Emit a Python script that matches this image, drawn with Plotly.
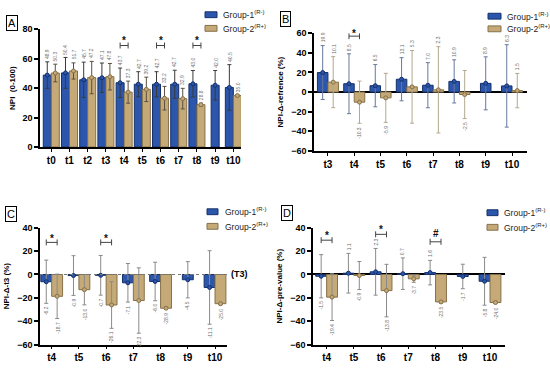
import plotly.graph_objects as go

W, H = 550, 369

# ---------------- data ----------------
cats_A = ["t0", "t1", "t2", "t3", "t4", "t5", "t6", "t7", "t8", "t9", "t10"]
g1_A = [48.9, 50.4, 45.7, 47.1, 43.7, 42.7, 42.7, 42.7, 43.0, 42.0, 40.5]
g1_A_sd = [9.0, 10.5, 12.0, 10.0, 10.0, 8.5, 8.5, 9.5, 9.0, 10.0, 15.5]
g2_A = [50.3, 51.7, 47.2, 47.8, 37.3, 39.2, 33.2, 32.9, 28.8, None, 35.0]
g2_A_sd = [6.0, 5.5, 11.0, 9.0, 7.5, 8.3, 8.0, 7.0, 1.0, None, 0.5]

cats_B = ["t3", "t4", "t5", "t6", "t7", "t8", "t9", "t10"]
g1_B = [19.9, 8.5, 6.5, 13.1, 7.0, 10.9, 8.9, 6.3]
g1_B_sd = [27.5, 30.5, 21.5, 22.0, 23.0, 22.0, 27.0, 42.0]
g2_B = [10.1, -10.3, -5.9, 5.3, 2.3, -2.5, None, 1.5]
g2_B_sd = [26.0, 21.5, 25.0, 37.0, 44.0, 24.5, None, 17.5]

cats_C = ["t4", "t5", "t6", "t7", "t8", "t9", "t10"]
g1_C = [-6.2, -0.9, -0.7, -7.1, -6.0, -4.5, -11.1]
g1_C_sd = [18.5, 17.0, 17.0, 16.5, 16.5, 15.5, 31.5]
g2_C = [-18.7, -13.0, -26.1, -22.3, -28.9, None, -25.0]
g2_C_sd = [19.0, 13.0, 20.0, 28.0, 1.0, None, 1.0]

cats_D = ["t4", "t5", "t6", "t7", "t8", "t9", "t10"]
g1_D = [-1.5, 1.1, 2.3, 0.7, 1.6, -1.7, -5.8]
g1_D_sd = [18.5, 17.0, 20.0, 13.5, 10.5, 10.5, 20.5]
g2_D = [-19.4, -0.9, -13.8, -3.7, -23.5, None, -24.0]
g2_D_sd = [20.0, 12.0, 22.5, 3.0, 1.0, None, 1.0]

# significance markers: (category, bracket level, symbol level, symbol)
sig_A = [("t4", 69, 74, "*"), ("t6", 69, 74, "*"), ("t8", 69, 74, "*")]
sig_B = [("t4", 57, 63, "*")]
sig_C = [("t4", 27.5, 33, "*"), ("t6", 27.5, 33, "*")]
sig_D = [("t4", 29.4, 35.6, "*"), ("t6", 34.4, 40.6, "*"), ("t8", 28, 35, "#")]

legend_names = ["Group-1<sup>(R-)</sup>", "Group-2<sup>(R+)</sup>"]

# ---------------- style ----------------
BLUE = "#2b56ab"
BLUE_LINE = "#14306b"
TAN = "#c5aa78"
TAN_LINE = "#86714a"
FONT = "Liberation Sans"


def px_x(p):
    return p / W


def px_y(p):
    return 1 - p / H


panels = [
    dict(sfx="", cats=cats_A, g1=g1_A, s1=g1_A_sd, g2=g2_A, s2=g2_A_sd, sig=sig_A,
         e1="#3a3a3a", e2="#5a5040", bw=0.44,
         xd=[px_x(40), px_x(241)], yd=[px_y(146), px_y(25)],
         xr=[-0.62, 10.42], yr=[0, 80], title="NPI  (0-100)",
         leg=dict(x0=205, x1=217, yc=[10, 24], tx=221)),
    dict(sfx="2", cats=cats_B, g1=g1_B, s1=g1_B_sd, g2=g2_B, s2=g2_B_sd, sig=sig_B,
         e1="#66789c", e2="#b2a88e", bw=0.4,
         xd=[px_x(314), px_x(527)], yd=[px_y(150), px_y(29)],
         xr=[-0.53, 7.57], yr=[-60, 60], title="NPI-Δ-refrence (%)",
         leg=dict(x0=488, x1=501, yc=[11.5, 24.5], tx=505)),
    dict(sfx="3", cats=cats_C, g1=g1_C, s1=g1_C_sd, g2=g2_C, s2=g2_C_sd, sig=sig_C,
         e1="#8a8a8a", e2="#8a8a8a", bw=0.4,
         xd=[px_x(40), px_x(227)], yd=[px_y(349), px_y(229)],
         xr=[-0.43, 6.44], yr=[-60, 40], title="NPI-Δ-t3 (%)",
         leg=dict(x0=207, x1=218, yc=[212.5, 227.5], tx=223)),
    dict(sfx="4", cats=cats_D, g1=g1_D, s1=g1_D_sd, g2=g2_D, s2=g2_D_sd, sig=sig_D,
         e1="#8a8a8a", e2="#8a8a8a", bw=0.4,
         xd=[px_x(313), px_x(505)], yd=[px_y(349), px_y(229)],
         xr=[-0.5, 6.55], yr=[-60, 40], title="NPI-Δ-pre-value (%)",
         leg=dict(x0=487, x1=498, yc=[213.5, 228.5], tx=502)),
]

fig = go.Figure()
annotations = []
shapes = []
layout = {}

for p in panels:
    xa = "x" + p["sfx"]
    ya = "y" + p["sfx"]
    cats = p["cats"]
    bw = p["bw"]
    idx = list(range(len(cats)))
    # pixels per data unit on this panel's y axis
    ppu = (p["yd"][1] - p["yd"][0]) * H / (p["yr"][1] - p["yr"][0])
    # bar centres derived from the category index (single bar is centred)
    x1 = [i - bw / 2 if v2 is not None else i for i, v2 in zip(idx, p["g2"])]
    x2 = [i + bw / 2 for i, v2 in zip(idx, p["g2"]) if v2 is not None]
    y2 = [v for v in p["g2"] if v is not None]
    s2 = [s for s in p["s2"] if s is not None]

    fig.add_trace(go.Bar(
        x=x1, y=p["g1"], width=bw, name=legend_names[0], showlegend=False,
        marker=dict(color=BLUE, line=dict(color=BLUE_LINE, width=1)),
        error_y=dict(type="data", array=p["s1"], color=p["e1"], thickness=1, width=2),
        xaxis=xa, yaxis=ya, hoverinfo="skip"))
    fig.add_trace(go.Bar(
        x=x2, y=y2, width=bw, name=legend_names[1], showlegend=False,
        marker=dict(color=TAN, line=dict(color=TAN_LINE, width=1)),
        error_y=dict(type="data", array=s2, color=p["e2"], thickness=1, width=2),
        xaxis=xa, yaxis=ya, hoverinfo="skip"))
    # mean dots on bar ends
    fig.add_trace(go.Scatter(
        x=x1, y=p["g1"], mode="markers", showlegend=False, hoverinfo="skip",
        marker=dict(size=4, color=BLUE, line=dict(color=BLUE_LINE, width=1)),
        xaxis=xa, yaxis=ya, cliponaxis=False))
    fig.add_trace(go.Scatter(
        x=x2, y=y2, mode="markers", showlegend=False, hoverinfo="skip",
        marker=dict(size=4, color=TAN, line=dict(color=TAN_LINE, width=1)),
        xaxis=xa, yaxis=ya, cliponaxis=False))

    # value labels
    for xs, ys, ss in ((x1, p["g1"], p["s1"]), (x2, y2, s2)):
        for xv, yv, sv in zip(xs, ys, ss):
            up = yv >= 0
            annotations.append(dict(
                x=xv, y=yv + sv if up else yv - sv, xref=xa, yref=ya, text=f"{yv:.1f}",
                textangle=-90, showarrow=False, xanchor="center",
                yanchor="bottom" if up else "top", yshift=1 if up else -1,
                font=dict(size=5, color="#6e6e6e", family=FONT)))

    # significance brackets
    for cat, lvl, slvl, sym in p["sig"]:
        ci = cats.index(cat)
        fig.add_trace(go.Scatter(
            x=[ci], y=[lvl], mode="markers", showlegend=False, hoverinfo="skip",
            marker=dict(size=1, color="rgba(0,0,0,0)"),
            error_x=dict(type="constant", value=bw / 2, color="#444", thickness=1, width=3),
            xaxis=xa, yaxis=ya, cliponaxis=False))
        # anchored on the bracket (inside the axis range) and lifted in pixels
        annotations.append(dict(
            x=ci, y=lvl, xref=xa, yref=ya, text=f"<b>{sym}</b>", showarrow=False,
            font=dict(size=10, color="#111", family=FONT), xanchor="center",
            yanchor="middle",
            yshift=(slvl - lvl) * ppu - (3 if sym == "*" else 0)))

    # legend (swatch + label)
    lg = p["leg"]
    for k, (fill, line) in enumerate(((BLUE, BLUE_LINE), (TAN, TAN_LINE))):
        yc = lg["yc"][k]
        shapes.append(dict(type="rect", xref="paper", yref="paper",
                           x0=px_x(lg["x0"]), x1=px_x(lg["x1"]),
                           y0=px_y(yc + 3), y1=px_y(yc - 3),
                           fillcolor=fill, line=dict(color=line, width=1)))
        annotations.append(dict(x=px_x(lg["tx"]), y=px_y(yc), xref="paper", yref="paper",
                                text=legend_names[k], showarrow=False, xanchor="left",
                                yanchor="middle",
                                font=dict(size=8.5, family=FONT, color="#222")))

    axis_key = "xaxis" + p["sfx"]
    yaxis_key = "yaxis" + p["sfx"]
    layout[axis_key] = dict(
        domain=p["xd"], anchor=ya, range=p["xr"], tickmode="array",
        tickvals=idx, ticktext=cats, showline=True, linecolor="black", linewidth=1.5,
        ticks="outside", ticklen=3, tickwidth=1, tickcolor="black", showgrid=False,
        zeroline=False, tickfont=dict(size=10, family=FONT, color="black", weight="bold"))
    layout[yaxis_key] = dict(
        domain=p["yd"], anchor=xa, range=p["yr"], dtick=20, showline=True,
        linecolor="black", linewidth=1.5, ticks="outside", ticklen=4, tickwidth=1.5,
        tickcolor="black", showgrid=False,
        zeroline=(p["sfx"] in ("2", "4")), zerolinecolor="black", zerolinewidth=1.5,
        tickfont=dict(size=9, family=FONT, color="black", weight="bold"),
        title=dict(text=p["title"], standoff=6,
                   font=dict(size=8, family=FONT, color="black", weight="bold")))

# dotted reference line in panel C
shapes.append(dict(type="line", xref="x3 domain", yref="y3", x0=0, x1=1, y0=0, y1=0,
                   line=dict(color="#777", width=1.2, dash="dot"), layer="above"))
annotations.append(dict(x=1.01, y=0, xref="x3 domain", yref="y3", text="<b>(T3)</b>",
                        showarrow=False, xanchor="left", yanchor="middle",
                        font=dict(size=9, family=FONT, color="black")))

# panel letters
for letter, cx, cy in (("A", 12, 18), ("B", 285.5, 14.5), ("C", 11, 215), ("D", 287, 214)):
    annotations.append(dict(x=px_x(cx), y=px_y(cy), xref="paper", yref="paper",
                            text=letter, showarrow=False, bordercolor="black",
                            borderwidth=1, borderpad=1, xanchor="center", yanchor="middle",
                            font=dict(size=11, family=FONT, color="black")))

fig.update_layout(
    width=W, height=H, autosize=False, margin=dict(l=0, r=0, t=0, b=0),
    plot_bgcolor="white", paper_bgcolor="white", barmode="overlay", showlegend=False,
    font=dict(family=FONT, color="black"), annotations=annotations, shapes=shapes,
    **layout)

fig.write_html("out.html", config={"displayModeBar": False},
               post_script="document.body.style.margin='0px';")
